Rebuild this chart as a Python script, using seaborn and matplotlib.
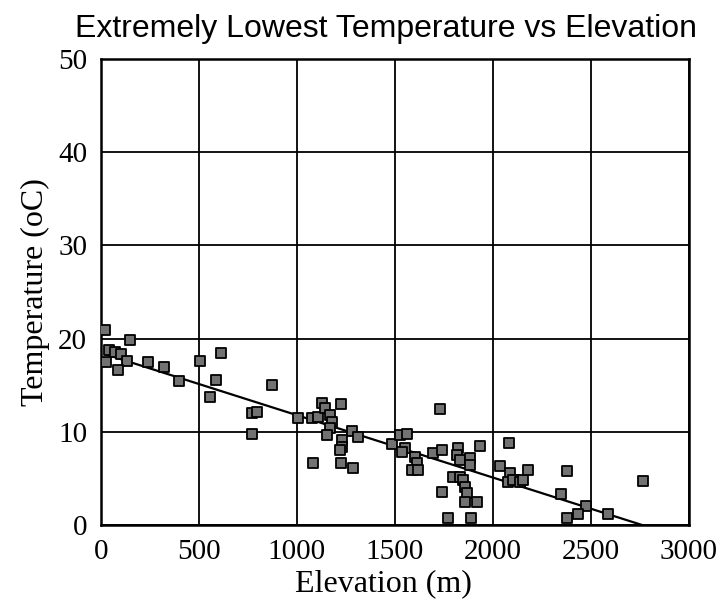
import numpy as np
import pandas as pd
import matplotlib
matplotlib.use("Agg")
import matplotlib.pyplot as plt
import seaborn as sns

# elevation (m) and extreme lowest temperature (oC)
elevation = [20, 150, 40, 70, 100, 25, 130, 85, 240, 320, 400, 505, 610, 585,
             555, 870, 770, 795, 770, 1005, 1075, 1080, 1107, 1128, 1143, 1168,
             1178, 1168, 1153, 1224, 1229, 1229, 1220, 1280, 1311, 1224, 1286,
             1730, 1485, 1526, 1561, 1551, 1536, 1602, 1612, 1587, 1617, 1694,
             1740, 1740, 1934, 1821, 1816, 1831, 1883, 1883, 1796, 1831, 1847,
             1857, 1867, 1857, 1918, 1770, 1888, 2082, 2036, 2087, 2112, 2077,
             2102, 2138, 2153, 2179, 2378, 2766, 2347, 2474, 2434, 2378, 2587]
temperature = [20.9, 19.8, 18.8, 18.6, 18.3, 17.5, 17.6, 16.6, 17.5, 16.9, 15.5,
               17.6, 18.5, 15.6, 13.7, 15.0, 12.0, 12.1, 9.8, 11.5, 11.5, 6.7,
               11.6, 13.1, 12.6, 11.8, 11.0, 10.4, 9.7, 13.0, 9.1, 8.4, 8.0, 10.1,
               9.4, 6.7, 6.1, 12.4, 8.7, 9.7, 9.8, 8.3, 7.8, 7.3, 6.7, 5.9, 5.9,
               7.7, 8.0, 3.5, 8.5, 8.3, 7.5, 7.0, 7.2, 6.4, 5.1, 5.1, 4.8, 4.1,
               3.4, 2.5, 2.5, 0.7, 0.7, 8.8, 6.3, 5.6, 4.8, 4.6, 4.8, 4.6, 4.8,
               5.9, 5.8, 4.7, 3.3, 2.0, 1.2, 0.7, 1.2]

df = pd.DataFrame({'elevation': elevation, 'temperature': temperature})

sns.set_theme(style='white')
plt.rcParams['font.family'] = ['Liberation Serif', 'DejaVu Serif']

fig = plt.figure(figsize=(7.22, 6.09), dpi=100)
ax = fig.add_axes([0.140, 0.138, 0.814, 0.765])

# scatter + least squares line
sns.regplot(data=df, x='elevation', y='temperature', ax=ax, ci=None,
            marker='s',
            scatter_kws={'s': 46, 'color': '#727272', 'edgecolor': 'black',
                         'linewidths': 1.3, 'alpha': 1, 'zorder': 3},
            line_kws={'color': 'black', 'linewidth': 1.6, 'zorder': 2})

ax.set_xlim(0, 3000)
ax.set_ylim(0, 50)
ax.set_xticks(range(0, 3001, 500))
ax.set_yticks(range(0, 51, 10))
ax.grid(True, color='black', linewidth=1.3)
ax.set_axisbelow(True)
for s in ax.spines.values():
    s.set_color('black')
    s.set_linewidth(1.8)
ax.tick_params(axis='both', labelsize=21, length=0, pad=10, colors='black')

ax.set_xlabel('Elevation (m)', fontsize=23, color='black')
ax.set_ylabel('Temperature (oC)', fontsize=23, color='black', labelpad=6)
ax.xaxis.set_label_coords(0.48, -0.095)
ax.set_title('Extremely Lowest Temperature vs Elevation', fontsize=23,
             family=['Liberation Sans', 'DejaVu Sans'], color='black', pad=16,
             x=0.485)

fig.savefig('out.png', dpi=100)
